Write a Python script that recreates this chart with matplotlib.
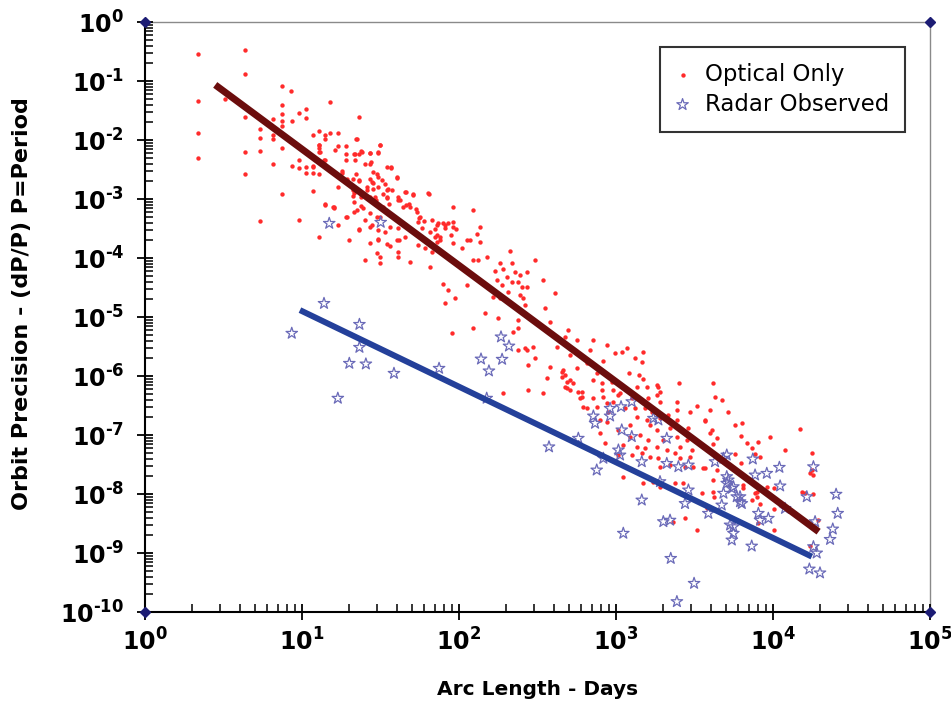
import numpy as np
import matplotlib
matplotlib.use("Agg")
import matplotlib.pyplot as plt
from matplotlib.ticker import FixedLocator, FuncFormatter, NullFormatter

plt.rcParams['font.family'] = ['DejaVu Sans']
plt.rcParams['mathtext.fontset'] = 'dejavusans'

# Optical-only orbits: arc length (days) and fractional period precision
optical_days = [
    2.17, 2.17, 2.17, 2.17, 4.35, 4.35, 4.35, 4.35, 4.35, 3.25,
    5.4, 5.4, 5.4, 5.4, 6.5, 6.5, 6.5, 6.5, 7.5, 7.5,
    7.5, 7.5, 7.5, 7.5, 7.5, 8.55, 8.6, 8.6, 9.6, 9.6,
    9.6, 9.6, 10.6, 10.6, 10.6, 10.6, 11.8, 11.8, 11.8, 11.8,
    12.8, 12.8, 12.8, 12.8, 12.8, 12.8, 14, 14, 14, 14,
    15, 15, 15.9, 16.9, 16.9, 16.9, 17.9, 19, 19, 19,
    19, 20, 21.3, 22, 22, 23.2, 23.2, 23.2, 23.9, 21.3,
    21.3, 21.3, 23.9, 23.9, 25.3, 23.2, 27.1, 27.1, 28.3, 28.3,
    30.5, 31.4, 30.5, 30.5, 29, 30.5, 30.5, 34.6, 36.7, 34.6,
    34.6, 33, 34.6, 40, 41, 44.2, 40, 46, 50.7, 53,
    55.8, 64.7, 67, 73.8, 70.3, 92, 92, 92, 47.8, 25.8,
    31.4, 75.7, 29.9, 31.4, 40.9, 48.7, 55, 65.4, 72, 79.5,
    92, 104, 112, 81.5, 122, 85.5, 70.3, 81.5, 95.7, 136,
    130, 72, 88.5, 117, 136, 211, 67, 123, 133, 150,
    182, 217, 305, 170, 191, 201, 228, 245, 270, 344,
    174, 217, 239, 187, 251, 270, 79.5, 85.5, 112, 206,
    245, 257, 182, 165, 94.3, 81.5, 263, 408, 353, 146,
    178, 239, 380, 123, 239, 222, 90, 497, 562, 717,
    873, 473, 270, 297, 239, 419, 276, 380, 461, 473,
    362, 562, 753, 986, 1087, 1170, 1320, 1490, 1470, 1400,
    1210, 1490, 1860, 2530, 4170, 4240, 651, 830, 811, 1060,
    961, 604, 717, 451, 509, 485, 590, 276, 344, 191,
    263, 305, 683, 509, 451, 485, 535, 717, 939, 473,
    509, 575, 811, 1140, 1355, 1570, 1816, 1905, 604, 830,
    1035, 1259, 1420, 1606, 1816, 1905, 2437, 3266, 4710, 619,
    651, 753, 873, 961, 1140, 1320, 1531, 1688, 2437, 2960,
    5190, 893, 1355, 1570, 1905, 2153, 2437, 3690, 791, 873,
    1228, 1647, 1816, 2207, 2890, 4070, 791, 1035, 1228, 1420,
    1606, 2000, 2437, 2820, 852, 1112, 1355, 1531, 1816, 2104,
    2560, 3035, 3600, 1035, 1259, 1458, 1647, 1860, 2375, 2560,
    2960, 1905, 2207, 2750, 3105, 3600, 4380, 1112, 1490, 1729,
    2375, 2685, 3515, 1905, 3785, 2750, 3266, 2317, 4170, 3970,
    5730, 6320, 6800, 7310, 8060, 8260, 9570, 14860, 10100, 9120,
    7870, 7870, 10100, 15240, 17650, 17300, 17900, 16000, 17900, 7310,
    6470, 11920, 3670, 3970, 6250, 4420, 4130, 7680, 5730, 6230,
    3690, 4170, 4210, 6470, 7680, 8260, 10100, 8060, 17650, 19450,
    17200, 63.5, 40.7,
    22.3, 21.8, 24.0, 27.1, 30.6, 31.4, 27.4, 25.2, 21.8, 17.9,
    19.4, 21, 23.2, 27.1, 27.8, 29.9, 32.2, 33.8, 35.5, 36.7,
    40.1, 28.5, 25.8, 21.2, 21, 24.5, 27.1, 29.6, 33, 34.7,
    36, 37.3, 42.1, 45.3, 51.2, 45.9, 48.7, 53.8, 56, 55.1,
    59.8, 57.8, 65.3, 72.1, 75.7, 79.5, 14, 16, 19.3, 22.3,
    24.3, 27.1, 29.9, 27.8, 33.8, 36.4, 41, 45.3, 36.4, 41.6,
    41, 30.6, 27.1, 22.9, 17, 15.8, 60.7, 25.2, 31.4, 27.1,
    12.9, 13, 16.1, 13.7, 11.8,
]
optical_dpp = [
    0.29, 0.046, 0.0133, 0.005, 0.33, 0.13, 0.025, 0.0062, 0.0027, 0.05,
    0.0154, 0.0108, 0.0065, 4.2e-4, 0.023, 0.0123, 0.0103, 0.0039, 0.081, 0.04,
    0.028, 0.021, 0.0173, 0.0072, 0.0012, 0.069, 0.021, 0.0037, 0.029, 0.0045,
    0.0033, 4.4e-4, 0.033, 0.024, 0.0035, 0.0028, 0.012, 0.0037, 0.0028, 0.00135,
    0.0144, 0.0083, 0.0072, 0.0062, 0.0027, 2.3e-4, 0.012, 0.0104, 0.0046, 8.1e-4,
    0.044, 0.013, 7.1e-4, 0.013, 0.0079, 0.0016, 0.0028, 0.0079, 0.0057, 0.0045,
    5e-4, 2e-4, 0.0057, 0.0105, 0.0027, 0.025, 0.0058, 0.0021, 0.0064, 0.00125,
    8.8e-4, 6.1e-4, 0.00108, 7.6e-4, 4.4e-4, 3.1e-4, 0.0061, 0.0039, 0.0029, 0.00185,
    0.0062, 0.0082, 0.0024, 0.0016, 0.0011, 2e-4, 3e-4, 0.0035, 0.0035, 0.0014,
    0.0011, 7.4e-4, 1.7e-4, 0.0024, 0.0011, 7.4e-4, 2e-4, 0.0013, 0.0012, 6.9e-4,
    4.7e-4, 0.0012, 4.4e-4, 3.9e-4, 2.3e-4, 7.4e-4, 4.1e-4, 1.8e-4, 8.4e-4, 0.0014,
    1.05e-4, 2e-4, 1.2e-4, 8.2e-5, 1.05e-4, 8.7e-5, 1.66e-4, 7.1e-5, 1.89e-4, 1.2e-4,
    3.4e-4, 1.46e-4, 2e-4, 3.6e-4, 6.5e-4, 4.0e-4, 3.06e-4, 3.2e-4, 3.1e-4, 3.4e-4,
    2.6e-4, 2.45e-4, 2.45e-4, 2e-4, 1.89e-4, 1.31e-4, 1.28e-4, 9.25e-5, 9.2e-5, 1.05e-4,
    8.1e-5, 8.3e-5, 9.2e-5, 6.0e-5, 6.4e-5, 4.8e-5, 5.9e-5, 5.15e-5, 5.9e-5, 4.24e-5,
    4.2e-5, 3.96e-5, 3.96e-5, 3.5e-5, 3.26e-5, 3.26e-5, 3.7e-5, 2.87e-5, 3.5e-5, 2.68e-5,
    2.36e-5, 2.07e-5, 2.07e-5, 2.2e-5, 2.07e-5, 1.7e-5, 1.6e-5, 2.52e-5, 1.4e-5, 1.15e-5,
    9.5e-6, 8.9e-6, 8.3e-6, 6.4e-6, 6.4e-6, 5.6e-6, 5.3e-6, 6.0e-6, 4.08e-6, 4.08e-6,
    3.35e-6, 4.6e-6, 2.76e-6, 3.14e-6, 2.76e-6, 3.14e-6, 1.54e-6, 1.44e-6, 1.26e-6, 1.04e-6,
    9.1e-7, 1.35e-6, 1.11e-6, 2.43e-6, 2.58e-6, 2.95e-6, 1.99e-6, 2.58e-6, 1.7e-6, 1.04e-6,
    1.11e-6, 8.9e-7, 6.6e-7, 7.5e-7, 7.5e-7, 4.46e-7, 1.64e-6, 1.83e-6, 7.5e-7, 5.1e-7,
    5.8e-7, 5.4e-7, 4.2e-7, 1.18e-6, 8.56e-7, 6.2e-7, 4.2e-7, 5.8e-7, 5.1e-7, 5.1e-7,
    2.95e-6, 1.99e-6, 2.76e-6, 2.27e-6, 9.7e-7, 8e-7, 7.5e-7, 8.56e-7, 8e-7, 6.6e-7,
    5.8e-7, 5.4e-7, 5.8e-7, 6.2e-7, 6.6e-7, 6.6e-7, 7e-7, 5.4e-7, 4.46e-7, 4.46e-7,
    4.76e-7, 4.2e-7, 3.92e-7, 4.2e-7, 4.76e-7, 3.67e-7, 3.67e-7, 3.14e-7, 3.92e-7, 3.02e-7,
    2.83e-7, 3.02e-7, 3.45e-7, 3.67e-7, 2.83e-7, 2.83e-7, 2.83e-7, 2.48e-7, 2.65e-7, 2.48e-7,
    2.48e-7, 2.48e-7, 2.04e-7, 1.8e-7, 1.92e-7, 2.18e-7, 1.8e-7, 1.8e-7, 1.8e-7, 1.68e-7,
    1.48e-7, 1.48e-7, 1.22e-7, 1.3e-7, 1.3e-7, 1.22e-7, 1.07e-7, 1.22e-7, 9.4e-8, 1e-7,
    8.2e-8, 8.2e-8, 9.4e-8, 8.2e-8, 7.2e-8, 6.8e-8, 6.3e-8, 5.95e-8, 6.3e-8, 5.57e-8,
    6.3e-8, 5.57e-8, 6.3e-8, 4.58e-8, 4.58e-8, 4.9e-8, 4.28e-8, 4.03e-8, 4.9e-8, 4.03e-8,
    4.28e-8, 2.9e-8, 3.1e-8, 2.9e-8, 2.9e-8, 2.73e-8, 2.55e-8, 1.97e-8, 1.52e-8, 1.62e-8,
    1.52e-8, 1.52e-8, 1.03e-8, 1.33e-8, 5.7e-9, 3.87e-9, 2.45e-9, 3.4e-9, 1.09e-8, 2.65e-7,
    1.48e-7, 1.58e-7, 7.2e-8, 5.95e-8, 7.7e-8, 4.28e-8, 9.4e-8, 1.26e-7, 1.25e-8, 1.33e-8,
    1.09e-8, 9e-9, 2.45e-9, 1.09e-8, 4.9e-8, 2.24e-8, 2.1e-8, 1.03e-8, 1e-8, 7.9e-9,
    1.25e-8, 5.57e-8, 1.73e-7, 1.09e-7, 9.6e-8, 8.8e-8, 7e-8, 4.76e-8, 4.76e-8, 3.39e-8,
    2.73e-8, 1.73e-8, 9e-9, 1.42e-8, 1.05e-8, 6.8e-9, 5.5e-9, 3.19e-9, 2.55e-8, 3.6e-9,
    1.31e-9, 1.26e-3, 9.6e-4,
    1.03e-2, 5.9e-3, 6.3e-3, 6.1e-3, 6.1e-3, 8.2e-3, 4.3e-3, 4.0e-3, 4.5e-3, 3.0e-3,
    2.2e-3, 2.2e-3, 2.0e-3, 2.2e-3, 1.97e-3, 2.65e-3, 2.1e-3, 1.8e-3, 1.5e-3, 3.4e-3,
    2.3e-3, 1.5e-3, 1.6e-3, 1.4e-3, 1.12e-3, 1.17e-3, 1.1e-3, 9.6e-4, 1.2e-3, 1.03e-3,
    8.4e-4, 1.4e-3, 9.6e-4, 1.33e-3, 1.17e-3, 7.9e-4, 7.4e-4, 6.1e-4, 5e-4, 4.1e-4,
    4.3e-4, 3.2e-4, 2.8e-4, 3.6e-4, 2.3e-4, 3.9e-4, 7.9e-4, 7.2e-4, 5e-4, 6.5e-4,
    7e-4, 5.7e-4, 5e-4, 3.6e-4, 2.8e-4, 3.4e-4, 3.2e-4, 2.3e-4, 1.6e-4, 2e-4,
    1.28e-4, 2.07e-4, 1.77e-4, 3e-4, 3.6e-4, 7.4e-4, 1.46e-4, 9.2e-5, 5e-4, 3.4e-4,
    8.2e-3, 6.3e-3, 6.9e-3, 4.5e-3, 3.5e-3,
]

# Radar-observed orbits
radar_days = [
    13.8, 8.6, 23.2, 23.2, 20, 25.5, 38.5, 16.9, 74.6, 138,
    155, 150, 14.9, 31.7, 185, 208, 188, 1259, 1076, 717,
    735, 916, 1087, 1259, 575, 1035, 1060, 830, 753, 1458,
    1729, 1860, 2104, 2104, 2495, 2890, 1905, 2890, 2750, 3870,
    1458, 2000, 2207, 1112, 4830, 5070, 4710, 2230, 3140, 2440,
    5070, 5460, 4830, 5870, 6160, 5590, 5590, 5460, 7310, 8060,
    9330, 8260, 7680, 9120, 10970, 11090, 11920, 18070, 16400, 18520,
    18070, 18970, 17030, 19900, 25200, 25800, 24000, 23070, 916, 5070,
    4270, 7430, 5190, 5590, 6160, 6320, 5320, 374,
]
radar_dpp = [
    1.7e-5, 5.3e-6, 7.5e-6, 3.06e-6, 1.64e-6, 1.6e-6, 1.11e-6, 4.2e-7, 1.35e-6, 1.94e-6,
    1.22e-6, 4.2e-7, 3.87e-4, 4.03e-4, 4.6e-6, 3.22e-6, 1.92e-6, 3.67e-7, 3.02e-7, 2.1e-7,
    1.58e-7, 2.1e-7, 1.22e-7, 9.4e-8, 8.8e-8, 5.57e-8, 4.58e-8, 4.03e-8, 2.55e-8, 3.53e-8,
    1.92e-7, 1.8e-7, 8.8e-8, 3.3e-8, 2.9e-8, 3.1e-8, 1.62e-8, 1.17e-8, 6.9e-9, 4.7e-9,
    7.9e-9, 3.4e-9, 3.6e-9, 2.16e-9, 4.03e-8, 1.97e-8, 6.5e-9, 8.1e-10, 3.06e-10, 1.5e-10,
    1.52e-8, 1.25e-8, 1.03e-8, 9e-9, 7.4e-9, 2.79e-9, 2.16e-9, 1.66e-9, 1.31e-9, 4.7e-9,
    3.87e-9, 3.6e-9, 2.1e-8, 2.24e-8, 2.83e-8, 1.37e-8, 5.7e-9, 2.9e-8, 9e-9, 3.4e-9,
    1.28e-9, 1e-9, 5.35e-10, 4.6e-10, 9.9e-9, 4.7e-9, 2.55e-9, 1.7e-9, 2.83e-7, 4.58e-8,
    3.53e-8, 3.92e-8, 1.73e-8, 1.33e-8, 9e-9, 6.9e-9, 2.98e-9, 6.3e-8,
]

# Power-law trend lines (end points)
optical_fit_days = [2.8, 19500]
optical_fit_dpp = [0.086, 2.3e-9]
radar_fit_days = [9.7, 17650]
radar_fit_dpp = [1.31e-5, 8.7e-10]

x_decades = np.arange(0, 6)
y_decades = np.arange(-10, 1)

fig = plt.figure(figsize=(9.51, 7.11), dpi=100)
ax = fig.add_axes([0.1525, 0.1392, 0.8255, 0.8298])
ax.set_axisbelow(False)

ax.scatter(optical_days, optical_dpp, s=10, marker='o', color='#ff2b2b',
           linewidths=0, label='Optical Only', zorder=2)
ax.scatter(radar_days, radar_dpp, s=75, marker='*', facecolors='none',
           edgecolors='#6a6ab8', linewidths=0.9, label='Radar Observed', zorder=3)

ax.plot(optical_fit_days, optical_fit_dpp, color='#6b0d0d', lw=5,
        solid_capstyle='butt', zorder=4)
ax.plot(radar_fit_days, radar_fit_dpp, color='#24409a', lw=4.3,
        solid_capstyle='butt', zorder=4)

ax.set_xscale('log')
ax.set_yscale('log')
x_lo, x_hi = 10.0 ** x_decades[0], 10.0 ** x_decades[-1]
y_lo, y_hi = 10.0 ** y_decades[0], 10.0 ** y_decades[-1]
ax.set_xlim(x_lo, x_hi)
ax.set_ylim(y_lo, y_hi)

# Corner diamonds on the frame
ax.plot([x_lo, x_hi, x_lo, x_hi], [y_lo, y_lo, y_hi, y_hi],
        'D', color='#1c1c74', ms=5, ls='none', clip_on=False, zorder=6)

for side in ('left', 'bottom'):
    ax.spines[side].set_color('black')
    ax.spines[side].set_linewidth(1.5)
for side in ('top', 'right'):
    ax.spines[side].set_color('#8a8a8a')
    ax.spines[side].set_linewidth(1.0)

subs = np.arange(2, 10)
x_minor = [s * 10.0 ** d for d in x_decades[:-1] for s in subs]
y_minor = [s * 10.0 ** d for d in y_decades[:-1] for s in subs]
ax.xaxis.set_major_locator(FixedLocator(10.0 ** x_decades))
ax.yaxis.set_major_locator(FixedLocator(10.0 ** y_decades))
ax.xaxis.set_minor_locator(FixedLocator(x_minor))
ax.yaxis.set_minor_locator(FixedLocator(y_minor))


def pow_label(v, pos):
    n = int(round(np.log10(v)))
    exp = str(n).replace('-', '\u2010')
    return r'$\mathbf{10^{%s}}$' % exp


ax.xaxis.set_major_formatter(FuncFormatter(pow_label))
ax.yaxis.set_major_formatter(FuncFormatter(pow_label))
ax.xaxis.set_minor_formatter(NullFormatter())
ax.yaxis.set_minor_formatter(NullFormatter())

ax.tick_params(which='both', left=True, bottom=True, top=False, right=False)
ax.tick_params(which='major', direction='inout', length=12, width=1.3,
               labelsize=17, color='black', labelcolor='black')
ax.tick_params(axis='y', which='major', pad=9)
ax.tick_params(axis='x', which='major', pad=6)
ax.tick_params(which='minor', direction='in', length=6, width=1.1, color='black')

ax.set_xlabel('Arc Length - Days', fontsize=14.5, fontweight='bold')
ax.xaxis.set_label_coords(0.5, -0.115)
ax.set_ylabel('Orbit Precision - (dP/P) P=Period', fontsize=16,
              fontweight='bold')
ax.yaxis.set_label_coords(-0.144, 0.522)

leg = ax.legend(loc='upper right', bbox_to_anchor=(0.968, 0.958),
                borderaxespad=0, fontsize=16.4, frameon=True, fancybox=False,
                handletextpad=0.7, handlelength=0.55, borderpad=0.7,
                labelspacing=0.3, markerscale=1.0)
leg.get_frame().set_edgecolor('black')
leg.get_frame().set_linewidth(1.5)

fig.savefig('out.png', dpi=100)
